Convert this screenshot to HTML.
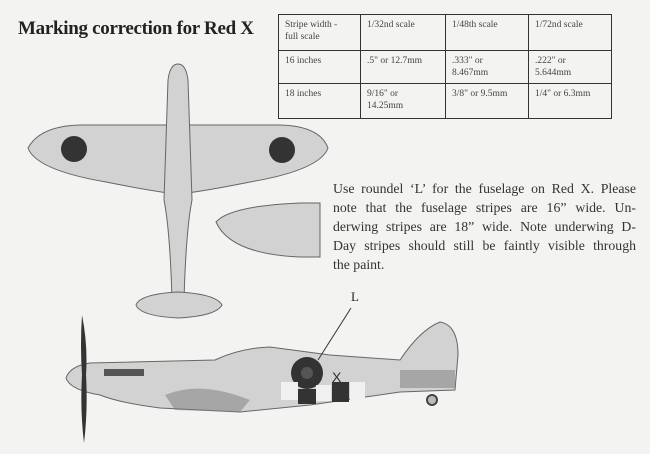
<!DOCTYPE html>
<html><head><meta charset="utf-8"><style>
body{margin:0;width:650px;height:454px;background:#f3f3f1;overflow:hidden;position:relative;font-family:"Liberation Serif",serif;color:#222}
.t{position:absolute;left:18px;top:18px;font-size:19px;font-weight:bold;letter-spacing:-0.3px}
table{position:absolute;left:278px;top:14px;border-collapse:collapse;font-size:9.5px;color:#444}
td{border:1.5px solid #333;vertical-align:top;padding:4px 6px;line-height:12px}
.p{position:absolute;left:333px;top:179px;width:303px;font-size:13.8px;line-height:19px;color:#333}
.p div{text-align:justify;text-align-last:justify;white-space:nowrap}
.p div.l{text-align-last:left}
svg{position:absolute;left:0;top:0}
</style></head><body>
<div class="t">Marking correction for Red X</div>
<table>
<tr style="height:36px"><td style="width:69px">Stripe width -<br>full scale</td><td style="width:72px">1/32nd scale</td><td style="width:70px">1/48th scale</td><td style="width:70px">1/72nd scale</td></tr>
<tr style="height:33px"><td>16 inches</td><td>.5" or 12.7mm</td><td>.333" or<br>8.467mm</td><td>.222" or<br>5.644mm</td></tr>
<tr style="height:35px"><td>18 inches</td><td>9/16" or<br>14.25mm</td><td>3/8" or 9.5mm</td><td>1/4" or 6.3mm</td></tr>
</table>
<div class="p">
<div>Use roundel ‘L’ for the fuselage on Red X. Please</div>
<div>note that the fuselage stripes are 16” wide. Un-</div>
<div>derwing stripes are 18” wide. Note underwing D-</div>
<div>Day stripes should still be faintly visible through</div>
<div class="l">the paint.</div>
</div>
<svg width="650" height="454">
<g fill="#d2d2d2" stroke="#666" stroke-width="1">
<path d="M28,148 Q40,126 80,125 L280,125 Q320,126 328,148 Q320,170 250,182 Q200,192 178,194 Q156,192 106,182 Q36,170 28,148Z"/>
<path d="M168,80 Q170,64 178,64 Q186,64 188,80 L192,200 Q186,230 184,300 L172,300 Q170,230 164,200Z"/>
<path d="M136,305 Q140,294 178,292 Q216,294 222,305 Q216,316 178,318 Q140,316 136,305Z"/>
<path d="M216,222 Q230,206 300,203 L320,203 L320,257 L300,257 Q230,254 216,222Z"/>
<path d="M66,378 Q70,366 90,363 L215,360 Q240,348 270,347 L330,355 L400,360 Q420,330 440,322 Q458,325 458,355 L455,390 L400,392 L310,405 L240,412 L160,408 Q120,403 100,395 Q70,390 66,378Z"/>
</g>
<g fill="#7a7a7a"><path d="M400,370 L455,370 L455,388 L400,388Z" opacity=".5"/><path d="M165,395 Q200,380 250,400 L240,412 L175,410Z" opacity=".5"/></g>
<g fill="#333"><circle cx="74" cy="149" r="13"/><circle cx="282" cy="150" r="13"/><circle cx="307" cy="373" r="16"/>
<rect x="298" y="389" width="18" height="15"/><rect x="332" y="382" width="17" height="20"/>
<path d="M82,315 Q88,345 86,375 Q88,410 84,443 Q80,410 82,375 Q80,345 82,315Z"/>
<rect x="104" y="369" width="40" height="7" fill="#555"/></g>
<circle cx="307" cy="373" r="6" fill="#555"/>
<g fill="#f0f0f0"><rect x="281" y="382" width="17" height="18"/><rect x="316" y="385" width="15" height="16"/><rect x="350" y="382" width="15" height="18"/></g>
<circle cx="432" cy="400" r="5" fill="#bbb" stroke="#444" stroke-width="2"/>
<text x="332" y="382" font-size="14" fill="#333" font-family="Liberation Sans,sans-serif">X</text>
<line x1="351" y1="308" x2="318" y2="360" stroke="#333" stroke-width="1"/>
<text x="351" y="301" font-size="13" fill="#222" font-family="Liberation Serif,serif">L</text>
</svg>
</body></html>
